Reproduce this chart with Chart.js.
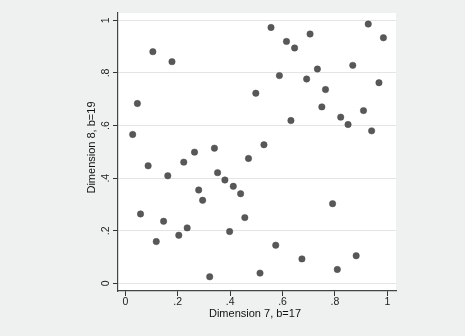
<!DOCTYPE html>
<html>
<head>
<meta charset="utf-8">
<script src="https://cdn.jsdelivr.net/npm/chart.js@4.4.1/dist/chart.umd.min.js"></script>
<style>
  html, body { margin: 0; padding: 0; background: #eff1f1; }
  #wrap { width: 465px; height: 336px; position: relative; }
</style>
</head>
<body>
<div id="wrap"><canvas id="c"></canvas></div>
<script>
// Data
const dimension7 = [0.105, 0.178, 0.046, 0.498, 0.028, 0.087, 0.223, 0.264, 0.340, 0.470,
  0.556, 0.927, 0.615, 0.705, 0.646, 0.985, 0.733, 0.868, 0.588, 0.692,
  0.764, 0.968, 0.750, 0.822, 0.909, 0.632, 0.850, 0.940, 0.529, 0.162,
  0.352, 0.380, 0.412, 0.440, 0.280, 0.295, 0.058, 0.146, 0.456, 0.236,
  0.204, 0.398, 0.118, 0.322, 0.514, 0.791, 0.574, 0.674, 0.881, 0.809];
const dimension8 = [0.881, 0.843, 0.684, 0.723, 0.566, 0.447, 0.461, 0.499, 0.514, 0.475,
  0.973, 0.986, 0.920, 0.948, 0.895, 0.934, 0.815, 0.829, 0.790, 0.777,
  0.737, 0.763, 0.671, 0.632, 0.657, 0.619, 0.604, 0.580, 0.527, 0.409,
  0.421, 0.393, 0.369, 0.341, 0.355, 0.316, 0.264, 0.236, 0.250, 0.211,
  0.183, 0.197, 0.159, 0.025, 0.039, 0.303, 0.145, 0.093, 0.105, 0.053];
const xTicks = [0, 0.2, 0.4, 0.6, 0.8, 1];
const xTickLabels = ['0', '.2', '.4', '.6', '.8', '1'];
const yTicks = [0, 0.2, 0.4, 0.6, 0.8, 1];
const yTickLabels = ['0', '.2', '.4', '.6', '.8', '1'];
const xTitle = 'Dimension 7, b=17';
const yTitle = 'Dimension 8, b=19';

const points = dimension7.map((x, i) => ({ x: x, y: dimension8[i] }));

const fontFamily = 'Liberation Sans, Arial, sans-serif';
const tickFont = { family: fontFamily, size: 10.5 };

const bgPlugin = {
  id: 'bg',
  beforeDraw(chart) {
    const { ctx, chartArea: a } = chart;
    ctx.save();
    ctx.fillStyle = '#eff1f1';
    ctx.fillRect(0, 0, chart.width, chart.height);
    ctx.fillStyle = '#ffffff';
    ctx.fillRect(a.left, a.top, a.right - a.left, a.bottom - a.top);
    ctx.restore();
  }
};

// Axis titles (Stata centres them slightly off the plot-region centre)
const titlePlugin = {
  id: 'axisTitles',
  afterDraw(chart) {
    const { ctx, chartArea: a } = chart;
    ctx.save();
    ctx.font = '11px ' + fontFamily;
    ctx.fillStyle = '#111';
    ctx.textAlign = 'center';
    ctx.textBaseline = 'middle';
    ctx.fillText(xTitle, (a.left + a.right) / 2 - 2, 314);
    ctx.translate(91.5, (a.top + a.bottom) / 2 - 4.5);
    ctx.rotate(-Math.PI / 2);
    ctx.fillText(yTitle, 0, 0);
    ctx.restore();
  }
};

new Chart(document.getElementById('c'), {
  type: 'scatter',
  data: {
    datasets: [{
      data: points,
      backgroundColor: '#585858',
      borderColor: '#4a4a4a',
      borderWidth: 0.5,
      pointRadius: 3.2
    }]
  },
  options: {
    responsive: true,
    maintainAspectRatio: false,
    animation: false,
    devicePixelRatio: 1,
    layout: { padding: { top: 13, right: 69, bottom: 0, left: 0 } },
    plugins: { legend: { display: false }, tooltip: { enabled: false } },
    scales: {
      x: {
        type: 'linear',
        min: -0.028,
        max: 1.033,
        afterBuildTicks: s => { s.ticks = xTicks.map(v => ({ value: v })); },
        afterFit: s => { s.height = 45; },
        ticks: {
          callback: (v, i) => xTickLabels[i],
          font: tickFont,
          color: '#222',
          padding: 0,
          maxRotation: 0,
          minRotation: 0
        },
        grid: { drawOnChartArea: false, drawTicks: true, tickLength: 5, tickColor: '#333', tickWidth: 1 },
        border: { display: true, color: '#444', width: 1.2 },
        title: { display: false }
      },
      y: {
        type: 'linear',
        min: -0.029,
        max: 1.028,
        afterBuildTicks: s => { s.ticks = yTicks.map(v => ({ value: v })); },
        afterFit: s => { s.width = 118; },
        ticks: {
          callback: (v, i) => yTickLabels[i],
          font: tickFont,
          color: '#222',
          padding: 3,
          minRotation: 90,
          maxRotation: 90,
          crossAlign: 'center'
        },
        grid: { color: '#e4e4e4', lineWidth: 1, drawTicks: true, tickLength: 5, tickColor: '#333', tickWidth: 1 },
        border: { display: true, color: '#444', width: 1.2 },
        title: { display: false }
      }
    }
  },
  plugins: [bgPlugin, titlePlugin]
});
</script>
</body>
</html>
